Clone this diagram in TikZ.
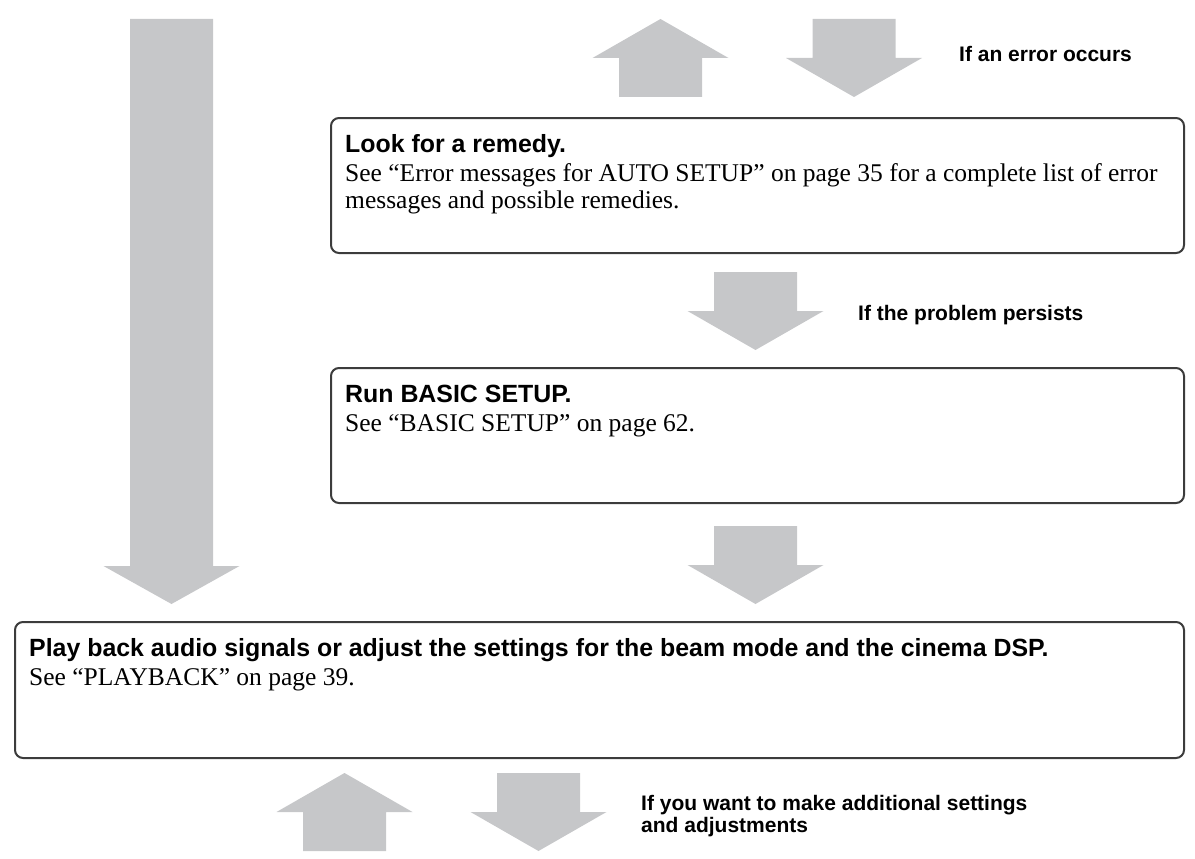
\documentclass[tikz,border=0pt]{standalone}
\usepackage{fontspec}
\setmainfont{Liberation Serif}
\newfontfamily\hsans{Liberation Sans}
\definecolor{arrgray}{RGB}{198,199,201}
\definecolor{bord}{RGB}{60,60,60}
\tikzset{
  stepbox/.style={draw=bord, line width=2pt, rounded corners=8pt, anchor=north west, inner sep=0pt},
  headtxt/.style={anchor=base west, inner sep=0pt, font=\hsans\bfseries\fontsize{24.9}{28}\selectfont},
  bodytxt/.style={anchor=base west, inner sep=0pt, font=\fontsize{25.5}{28}\selectfont},
  lbltxt/.style={anchor=base west, inner sep=0pt, align=left, font=\hsans\bfseries\fontsize{21}{22}\selectfont},
  blockarr/.style={fill=arrgray, draw=none},
}
% down arrow: centre x, top y, head base y, tip y
\newcommand\blkdown[4]{%
  \fill[blockarr] ({#1-41.5},#2) -- ({#1+41.5},#2) -- ({#1+41.5},#3) -- ({#1+68},#3)
    -- (#1,#4) -- ({#1-68},#3) -- ({#1-41.5},#3) -- cycle;}
% up arrow: centre x, tip y, head base y, bottom y
\newcommand\blkup[4]{%
  \fill[blockarr] (#1,#2) -- ({#1+68},#3) -- ({#1+41.5},#3) -- ({#1+41.5},#4)
    -- ({#1-41.5},#4) -- ({#1-41.5},#3) -- ({#1-68},#3) -- cycle;}
\begin{document}
\begin{tikzpicture}[x=1pt,y=-1pt]
\useasboundingbox (0,0) rectangle (1195,859);

% arrows
\blkdown{171.5}{19}{566}{604}
\blkup{660.5}{19}{58}{97}
\blkdown{854}{19}{58}{97}
\blkdown{755.5}{272}{311}{350}
\blkdown{755.5}{526}{565}{604}
\blkup{344.5}{773}{812}{851}
\blkdown{538.5}{773}{812}{851}

% boxes
\node[stepbox, minimum width=853pt, minimum height=135pt] (b1) at (330,117) {};
\node[stepbox, minimum width=853pt, minimum height=135pt] (b2) at (330,367) {};
\node[stepbox, minimum width=1169pt, minimum height=136pt] (b3) at (14,621) {};

% texts
\node[headtxt] (h1) at (345,152) {Look for a remedy.};
\node[bodytxt] (t1a) at (345,181) {See “Error messages for AUTO SETUP” on page 35 for a complete list of error};
\node[bodytxt] (t1b) at (345,208) {messages and possible remedies.};

\node[headtxt] (h2) at (345,402) {Run BASIC SETUP.};
\node[bodytxt] (t2) at (345,431) {See “BASIC SETUP” on page 62.};

\node[headtxt] (h3) at (29,656) {Play back audio signals or adjust the settings for the beam mode and the cinema DSP.};
\node[bodytxt] (t3) at (29,685) {See “PLAYBACK” on page 39.};

\node[lbltxt] (l1) at (959,62) {If an error occurs};
\node[lbltxt] (l2) at (858,320) {If the problem persists};
\node[lbltxt] (l3a) at (641,810) {If you want to make additional settings};
\node[lbltxt] (l3b) at (641,832) {and adjustments};
\end{tikzpicture}
\end{document}
